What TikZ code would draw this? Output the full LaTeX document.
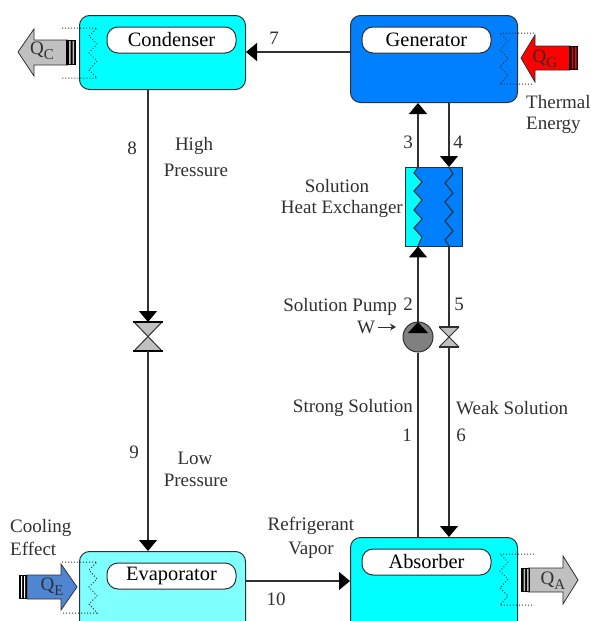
\documentclass[tikz,border=0pt]{standalone}
\usepackage{fontspec}
\setmainfont{Liberation Serif}
\usetikzlibrary{arrows.meta,shapes.geometric,calc}
\definecolor{ink}{HTML}{303030}
\definecolor{cyanA}{HTML}{00FFFF}
\definecolor{cyanB}{HTML}{80FFFF}
\definecolor{blueA}{HTML}{0080FF}
\definecolor{silverA}{HTML}{C0C0C0}
\definecolor{blueB}{HTML}{4F86D2}
\tikzset{
  unitbox/.style={draw=ink,line width=1pt,rounded corners=10pt,inner sep=0pt,anchor=north west},
  pill/.style={draw=ink,line width=1pt,fill=white,rounded corners=11pt,inner sep=0pt,minimum width=129pt,minimum height=26pt,font=\fontsize{20.4}{20.4}\selectfont},
  lab/.style={inner sep=0pt,text=ink,font=\fontsize{19}{19}\selectfont},
  flow/.style={draw=ink,line width=1.3pt},
  tip/.style={flow,-{Triangle[length=11pt,width=18pt,color=black]}},
  dots/.style={draw=ink,line width=1pt,dotted},
  blockarrow/.style={draw=ink,line width=0.8pt},
  coil/.style={draw=ink,line width=1.1pt}
}
\newcommand{\Qlab}[1]{Q\raisebox{-5pt}{\fontsize{15}{15}\selectfont #1}}
\begin{document}
\begin{tikzpicture}[x=1pt,y=-1pt]
\useasboundingbox (0,0) rectangle (591,621);
\clip (0,0) rectangle (591,621);
% units
\node[unitbox,fill=cyanA,minimum width=166pt,minimum height=74pt] (cond) at (79,15) {};
\node[unitbox,fill=blueA,minimum width=167pt,minimum height=87pt] (gen) at (350,15) {};
\node[unitbox,fill=cyanB,minimum width=166pt,minimum height=90pt] (evap) at (79,551) {};
\node[unitbox,fill=cyanA,minimum width=167pt,minimum height=100pt] (abso) at (350,537) {};
\node[pill] (condl) at (171.5,40) {Condenser};
\node[pill] (genl) at (426.5,40) {Generator};
\node[pill] (evapl) at (171.5,576) {Evaporator};
\node[pill] (absl) at (426.5,562) {Absorber};
% heat exchanger
\node[draw=none,fill=blueA,minimum width=57pt,minimum height=79pt,inner sep=0pt,anchor=north west] (hx) at (405,167) {};
\fill[cyanA] (405,167) -- (418,167) -- (414,173) -- (422,182) -- (414,191) -- (422,200) -- (414,210) -- (422,219) -- (414,228) -- (422,237) -- (418,246) -- (405,246) -- cycle;
\draw[coil] (418,167) -- (414,173) -- (422,182) -- (414,191) -- (422,200) -- (414,210) -- (422,219) -- (414,228) -- (422,237) -- (418,246);
\draw[coil] (449,167) -- (453,174) -- (445,183) -- (453,193) -- (445,202) -- (453,212) -- (445,221) -- (453,231) -- (445,240) -- (449,246);
\draw[ink,line width=1pt] (hx.south west) rectangle (hx.north east);
% pump and valves
\coordinate (xl) at (418,0);
\coordinate (xr) at (449,0);
\node[circle,draw=ink,line width=1pt,fill=gray,minimum size=30pt,inner sep=0pt] (pump) at (418,337) {};
\fill[black] (408,333) -- (418,322) -- (428,333) -- cycle;
\coordinate (vTa) at (449,327);
\coordinate (vBa) at (449,347);
\fill[silverA] (439,327) -- (459,327) -- (439,347) -- (459,347) -- cycle;
\draw[ink,line width=1pt] (439,327) -- (459,347) (459,327) -- (439,347);
\draw[ink,line width=1.6pt] (439,327) -- (459,327) (439,347) -- (459,347);
\coordinate (vTb) at (148,322);
\coordinate (vBb) at (148,351);
\fill[silverA] (134,322) -- (162,322) -- (134,351) -- (162,351) -- cycle;
\draw[ink,line width=1pt] (134,322) -- (162,351) (162,322) -- (134,351);
\draw[black,line width=2pt] (133,322) -- (163,322) (133,351) -- (163,351);
% connectors
\coordinate (y7) at (0,52);
\coordinate (y10) at (0,581);
\draw[tip] (gen.west |- y7) -- (cond.east |- y7);
\draw[tip] (cond.south -| vTb) -- (vTb);
\draw[tip] (vBb) -- (evap.north -| vBb);
\draw[tip] (evap.east |- y10) -- (abso.west |- y10);
\draw[flow] (abso.north -| xl) -- (pump.south);
\draw[tip] (pump.north) -- (hx.south -| xl);
\draw[tip] (hx.north -| xl) -- (gen.south -| xl);
\draw[tip] (gen.south -| xr) -- (hx.north -| xr);
\draw[flow] (hx.south -| xr) -- (vTa);
\draw[tip] (vBa) -- (abso.north -| xr);
% heat ports
\draw[dots] (62,28) -- (97,28) -- (89,36) -- (97,44) -- (89,53) -- (97,61) -- (89,70) -- (97,78) -- (62,78);
\draw[dots] (534,33) -- (500,33) -- (508,41) -- (500,50) -- (508,58) -- (500,67) -- (508,75) -- (500,84) -- (534,84);
\draw[dots] (62,562) -- (97,562) -- (89,570) -- (97,579) -- (89,587) -- (97,596) -- (89,604) -- (97,613) -- (62,613);
\draw[dots] (534,554) -- (500,554) -- (508,562) -- (500,571) -- (508,579) -- (500,588) -- (508,596) -- (500,605) -- (534,605);
% block arrows
\draw[blockarrow,fill=silverA] (18,52) -- (34,29) -- (34,40) -- (68,40) -- (68,65) -- (34,65) -- (34,76) -- cycle;
\fill[black] (66,40) rectangle (76,65);
\fill[silverA] (69,41) rectangle (70.5,64) (72.5,41) rectangle (74,64);
\draw[blockarrow,fill=red] (521,58) -- (535,35) -- (535,46) -- (570,46) -- (570,70) -- (535,70) -- (535,82) -- cycle;
\fill[black] (569,46) rectangle (578,70);
\fill[red] (571.5,47) rectangle (573,69) (575,47) rectangle (576.5,69);
\draw[blockarrow,fill=blueB] (77,587) -- (61,564) -- (61,575) -- (27,575) -- (27,599) -- (61,599) -- (61,610) -- cycle;
\fill[black] (19,575) rectangle (27,599);
\fill[white] (21,576) rectangle (22,598) (24,576) rectangle (25,598);
\draw[blockarrow,fill=silverA] (578,580) -- (563,556) -- (563,568) -- (528,568) -- (528,592) -- (563,592) -- (563,604) -- cycle;
\fill[black] (521,568) rectangle (530,592);
\fill[silverA] (523.5,569) rectangle (525,591) (527,569) rectangle (528.5,591);
\node[lab] (qc) at (42,51) {\Qlab{C}};
\node[lab] (qg) at (545,59) {\Qlab{G}};
\node[lab] (qe) at (52,587) {\Qlab{E}};
\node[lab] (qa) at (553,581) {\Qlab{A}};
% texts
\node[lab] (t7) at (274,38) {7};
\node[lab] (t8) at (132,148) {8};
\node[lab] (t9) at (134,452) {9};
\node[lab] (t10) at (276,599) {10};
\node[lab] (t3) at (408,142) {3};
\node[lab] (t4) at (458,142) {4};
\node[lab] (t2) at (408,304) {2};
\node[lab] (t5) at (459,304) {5};
\node[lab] (t1) at (407,435) {1};
\node[lab] (t6) at (461,435) {6};
\node[lab] (high) at (194,146) {High};
\node[lab] (hp) at (196,170) {Pressure};
\node[lab] (low) at (195,458) {Low};
\node[lab] (lp) at (196,480) {Pressure};
\node[lab,anchor=west] (therm) at (526,102) {Thermal};
\node[lab,anchor=west] (ener) at (526,125) {Energy};
\node[lab] (sol) at (337,186) {Solution};
\node[lab,anchor=east] (hxt) at (403,209) {Heat Exchanger};
\node[lab,anchor=east] (spt) at (397,307) {Solution Pump};
\node[lab] (wt) at (366,327) {W};
\coordinate (wa) at (378,327);
\coordinate (wb) at (396,327);
\draw[ink,line width=1pt,-{Stealth[length=6pt,width=7pt]}] (wa) -- (wb);
\node[lab,anchor=east] (ss) at (413,408) {Strong Solution};
\node[lab,anchor=west] (ws) at (456,408) {Weak Solution};
\node[lab,anchor=west] (cool) at (10,528) {Cooling};
\node[lab,anchor=west] (eff) at (10,549) {Effect};
\node[lab] (refr) at (311,526) {Refrigerant};
\node[lab] (vap) at (311,550) {Vapor};
\end{tikzpicture}
\end{document}
